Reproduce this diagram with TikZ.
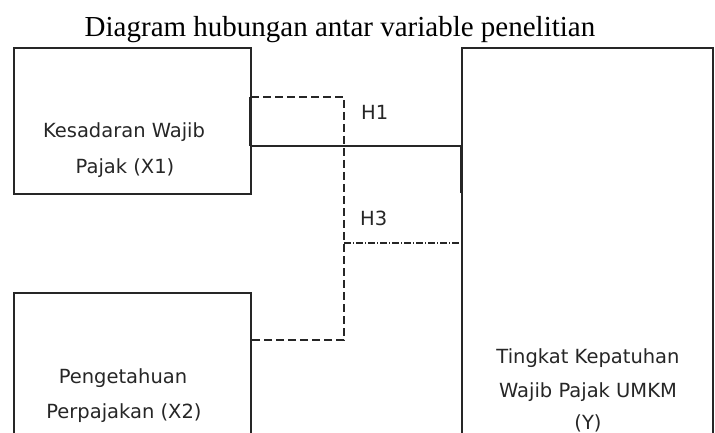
\documentclass[tikz,border=0pt]{standalone}
\usepackage{fontspec}
\setmainfont{Liberation Serif}
\newfontfamily\boxfont{DejaVu Sans}
\definecolor{ink}{HTML}{262626}
\begin{document}
\begin{tikzpicture}[x=1pt,y=-1pt,
  varbox/.style={draw=ink,line width=1.3pt,inner sep=0pt,outer sep=0pt},
  boxtext/.style={font=\boxfont\fontsize{19.5}{22}\selectfont,text=ink,anchor=base,inner sep=0pt},
  hyp/.style={font=\boxfont\fontsize{19.5}{22}\selectfont,text=ink,anchor=base west,inner sep=0pt},
  link/.style={draw=ink,line width=1.3pt},
  tick/.style={draw=ink,line width=3pt},
  dashlink/.style={draw=ink,line width=1.5pt,dash pattern=on 8pt off 4pt},
  dotlink/.style={draw=ink,line width=1.5pt,dash pattern=on 7pt off 2pt on 1pt off 2pt}
]
\useasboundingbox (0,0) rectangle (715,433);
\clip (0,0) rectangle (715,433);

% title
\node[font=\fontsize{29}{32}\selectfont,anchor=base,inner sep=0pt] (title) at (340,37)
  {Diagram hubungan antar variable penelitian};

% variable boxes (the lower ones run past the bottom edge)
\node[varbox,minimum width=237pt,minimum height=146pt] (x1) at (132.5,121) {};
\node[varbox,minimum width=237pt,minimum height=200pt] (x2) at (132.5,393) {};
\node[varbox,minimum width=251pt,minimum height=450pt] (y) at (587.5,273) {};

% box texts
\node[boxtext] (x1a) at (124,138) {Kesadaran Wajib};
\node[boxtext] (x1b) at (125,173) {Pajak (X1)};
\node[boxtext] (x2a) at (123,383) {Pengetahuan};
\node[boxtext] (x2b) at (124,418) {Perpajakan (X2)};
\node[boxtext] (ya) at (588,363) {Tingkat Kepatuhan};
\node[boxtext] (yb) at (588,397) {Wajib Pajak UMKM};
\node[boxtext] (yc) at (588,429) {(Y)};

% hypothesis labels
\node[hyp] (h1) at (361,120) {H1};
\node[hyp] (h3) at (360,225) {H3};

% connector points
\coordinate (x1top) at (x1.east |- 0,97);
\coordinate (x1mid) at (x1.east |- 0,146);
\coordinate (ymid) at (y.west |- 0,146);
\coordinate (ylow) at (y.west |- 0,193);
\coordinate (bendtop) at (344,97);
\coordinate (bendlow) at (344,340);
\coordinate (x2mid) at (x2.east |- 0,340);
\coordinate (h3start) at (344,243);
\coordinate (h3end) at (y.west |- 0,243);

% H1: solid link
\draw[tick] ([xshift=-0.5pt]x1top) -- ([xshift=-0.5pt]x1mid);
\draw[link] (x1mid) -- (ymid);
\draw[tick] ([xshift=-1pt]ymid) -- ([xshift=-1pt]ylow);

% dashed loop from X1 down to X2
\draw[dashlink] (x1top) -- (bendtop) -- (bendlow) -- (x2mid);

% H3: dash-dot link into Y
\draw[dotlink] (h3start) -- (h3end);
\end{tikzpicture}
\end{document}
